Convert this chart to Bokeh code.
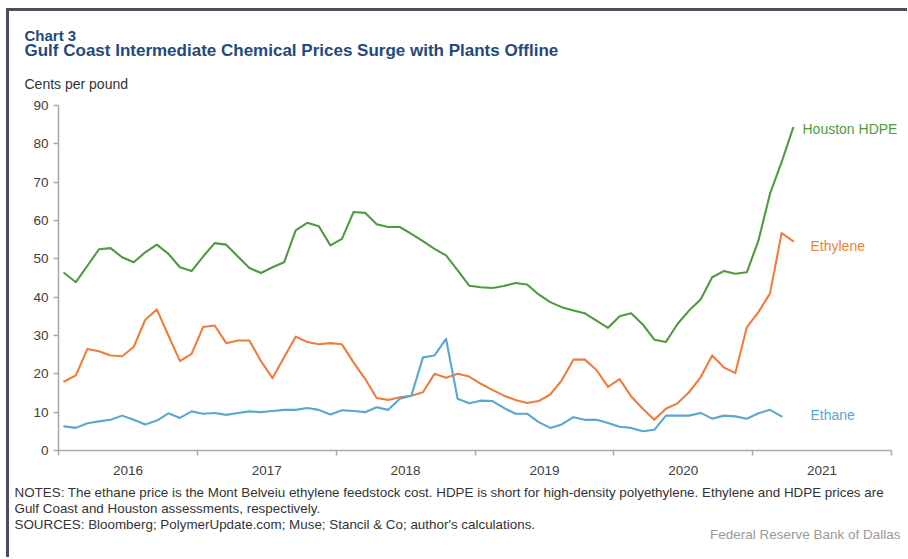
from bokeh.plotting import figure
from bokeh.models import Label, FixedTicker, ColumnDataSource, Range1d
from bokeh.layouts import column, row
from bokeh.embed import file_html
from bokeh.resources import INLINE
import numpy as np

# ---- data (cents per pound, monthly from Jan 2016) ----
years = ["2016", "2017", "2018", "2019", "2020", "2021"]
y_ticks = [0, 10, 20, 30, 40, 50, 60, 70, 80, 90]

hdpe = [46.3, 43.9, 48.2, 52.5, 52.8, 50.4, 49.1, 51.7, 53.7, 51.3,
        47.8, 46.8, 50.6, 54.1, 53.7, 50.6, 47.6, 46.3, 47.8, 49.1,
        57.4, 59.4, 58.5, 53.5, 55.2, 62.2, 62.0, 59.0, 58.3, 58.3,
        56.5, 54.6, 52.6, 50.9, 47.0, 43.0, 42.6, 42.4, 42.9, 43.7,
        43.3, 40.7, 38.7, 37.4, 36.5, 35.8, 33.9, 32.0, 35.0, 35.8,
        32.9, 28.9, 28.3, 33.0, 36.5, 39.4, 45.2, 46.8, 46.1, 46.5,
        54.8, 67.0, 75.2, 84.2]

ethylene = [18.0, 19.6, 26.5, 25.9, 24.8, 24.6, 27.0, 34.1, 36.8, 30.0,
            23.3, 25.2, 32.2, 32.6, 28.0, 28.7, 28.7, 23.3, 18.9, 24.3,
            29.7, 28.3, 27.7, 28.0, 27.7, 23.0, 18.7, 13.7, 13.2, 13.9,
            14.3, 15.2, 20.0, 19.0, 20.0, 19.3, 17.4, 15.8, 14.3, 13.2,
            12.4, 12.9, 14.6, 18.3, 23.7, 23.7, 21.0, 16.6, 18.6, 14.1,
            10.9, 8.0, 10.9, 12.3, 15.2, 19.1, 24.8, 21.7, 20.2, 32.2,
            36.1, 41.0, 56.7, 54.6]

ethane = [6.3, 5.9, 7.1, 7.6, 8.0, 9.1, 8.0, 6.8, 7.8, 9.7,
          8.5, 10.2, 9.6, 9.8, 9.3, 9.8, 10.2, 10.0, 10.3, 10.6,
          10.6, 11.1, 10.6, 9.4, 10.5, 10.3, 10.0, 11.3, 10.6, 13.5,
          14.3, 24.3, 24.8, 29.1, 13.5, 12.3, 13.0, 12.9, 11.1, 9.6,
          9.6, 7.4, 5.9, 6.8, 8.7, 8.0, 8.0, 7.2, 6.2, 5.9,
          5.0, 5.4, 9.1, 9.1, 9.1, 9.8, 8.3, 9.1, 8.9, 8.3,
          9.7, 10.6, 8.9]

series_names = ["Houston HDPE", "Ethylene", "Ethane"]

# ---- styling ----
GREEN = "#4f9a3e"
ORANGE = "#ef7d3a"
BLUE = "#5aa7d0"
TITLE_C = "#244a7c"
TEXT_C = "#333333"
FONT = "Liberation Sans"
AXIS_C = "#a9a9a9"
LABEL_C = "#404040"

# page geometry (px)
OX, OY = 9, 11            # content origin on the page (after border)
W = 898
TOP_END = 92              # page y where the chart figure starts
CHART_END = 480           # page y where the notes figure starts
PAGE_END = 557
FL, FT, FB = 58, 105, 450  # chart frame edges (page px)
FR_AXIS = 891              # right end of the x axis (page px)
FR = OX + W                # chart frame right edge (page px)


def text_panel(height):
    f = figure(width=W, height=height, output_backend="svg",
               toolbar_location=None, x_axis_type=None, y_axis_type=None,
               x_range=Range1d(0, W), y_range=Range1d(0, height),
               min_border_left=0, min_border_right=0,
               min_border_top=0, min_border_bottom=0)
    f.outline_line_color = None
    f.xgrid.visible = False
    f.ygrid.visible = False
    f.background_fill_color = "white"
    f.border_fill_color = "white"
    return f


def add_text(fig, x0, y0, text, px, py, size="13px", color=TEXT_C,
             bold=False, align="left"):
    fig.add_layout(Label(x=px - x0, y=y0 - py, x_units="screen",
                         y_units="screen", text=text, text_font=FONT,
                         text_font_size=size, text_color=color,
                         text_align=align, text_baseline="middle",
                         text_font_style="bold" if bold else "normal"))


# ---- top text panel ----
top = text_panel(TOP_END - OY)
add_text(top, OX, TOP_END, "Chart 3", 24, 35, size="15px", color=TITLE_C, bold=True)
add_text(top, OX, TOP_END,
         "Gulf Coast Intermediate Chemical Prices Surge with Plants Offline",
         24, 50, size="17px", color=TITLE_C, bold=True)
add_text(top, OX, TOP_END, "Cents per pound", 24, 83, size="14px")

# ---- chart ----
CH = CHART_END - TOP_END
months_total = 12 * len(years)
x_end = months_total * (FR - FL) / (FR_AXIS - FL)

p = figure(width=W, height=CH, output_backend="svg", toolbar_location=None,
           x_range=Range1d(0, x_end), y_range=Range1d(0, 90),
           min_border_left=FL - OX, min_border_right=0,
           min_border_top=FT - TOP_END, min_border_bottom=CHART_END - FB)
p.outline_line_color = None
p.xgrid.visible = False
p.ygrid.visible = False
p.background_fill_color = "white"
p.border_fill_color = "white"


def month_x(vals):
    return (np.arange(len(vals)) + 0.5).tolist()


for vals, col in [(hdpe, GREEN), (ethylene, ORANGE), (ethane, BLUE)]:
    src = ColumnDataSource(dict(x=month_x(vals), y=vals))
    p.line("x", "y", source=src, line_color=col, line_width=2.1,
           line_join="round", line_cap="round")

p.yaxis.ticker = FixedTicker(ticks=y_ticks)
p.yaxis.axis_line_color = AXIS_C
p.yaxis.axis_line_width = 1.5
p.yaxis.major_tick_line_color = AXIS_C
p.yaxis.major_tick_line_width = 1.5
p.yaxis.major_tick_out = 5
p.yaxis.major_tick_in = 0
p.yaxis.minor_tick_line_color = None
p.yaxis.major_label_text_font = FONT
p.yaxis.major_label_text_font_size = "13.5px"
p.yaxis.major_label_text_color = LABEL_C
p.yaxis.major_label_standoff = 5

mid_ticks = [6 + 12 * i for i in range(len(years))]
bound_ticks = [12 * i for i in range(len(years) + 1)]
p.xaxis.ticker = FixedTicker(ticks=mid_ticks, minor_ticks=bound_ticks)
p.xaxis.major_label_overrides = {t: y for t, y in zip(mid_ticks, years)}
p.xaxis.bounds = (0, months_total)
p.xaxis.axis_line_color = AXIS_C
p.xaxis.axis_line_width = 1.5
p.xaxis.major_tick_line_color = None
p.xaxis.major_tick_out = 0
p.xaxis.major_tick_in = 0
p.xaxis.minor_tick_line_color = AXIS_C
p.xaxis.minor_tick_line_width = 1.5
p.xaxis.minor_tick_out = 5
p.xaxis.minor_tick_in = 0
p.xaxis.major_label_text_font = FONT
p.xaxis.major_label_text_font_size = "13.5px"
p.xaxis.major_label_text_color = LABEL_C
p.xaxis.major_label_standoff = 10

add_text(p, FL, FB, series_names[0], 802, 128, size="14px", color=GREEN)
add_text(p, FL, FB, series_names[1], 810, 245, size="14px", color=ORANGE)
add_text(p, FL, FB, series_names[2], 810, 414, size="14px", color=BLUE)

# ---- notes panel ----
bot = text_panel(PAGE_END - CHART_END)
NOTE_SIZE = "13.4px"
add_text(bot, OX, PAGE_END,
         "NOTES: The ethane price is the Mont Belveiu ethylene feedstock cost. "
         "HDPE is short for high-density polyethylene. Ethylene and HDPE prices are",
         14, 492, size=NOTE_SIZE)
add_text(bot, OX, PAGE_END, "Gulf Coast and Houston assessments, respectively.",
         14, 508, size=NOTE_SIZE)
add_text(bot, OX, PAGE_END,
         "SOURCES: Bloomberg; PolymerUpdate.com; Muse; Stancil & Co; author's calculations.",
         14, 524, size=NOTE_SIZE)
add_text(bot, OX, PAGE_END, "Federal Reserve Bank of Dallas", 900, 534,
         size="13.5px", color="#9a9a9a", align="right")

layout = column(row(top), row(p), row(bot), spacing=0,
                styles={"border-left": "3px solid #4b4f5c",
                        "border-top": "3px solid #4b4f5c",
                        "margin-left": "6px", "margin-top": "8px"})

open("out.html", "w").write(file_html(layout, INLINE))
